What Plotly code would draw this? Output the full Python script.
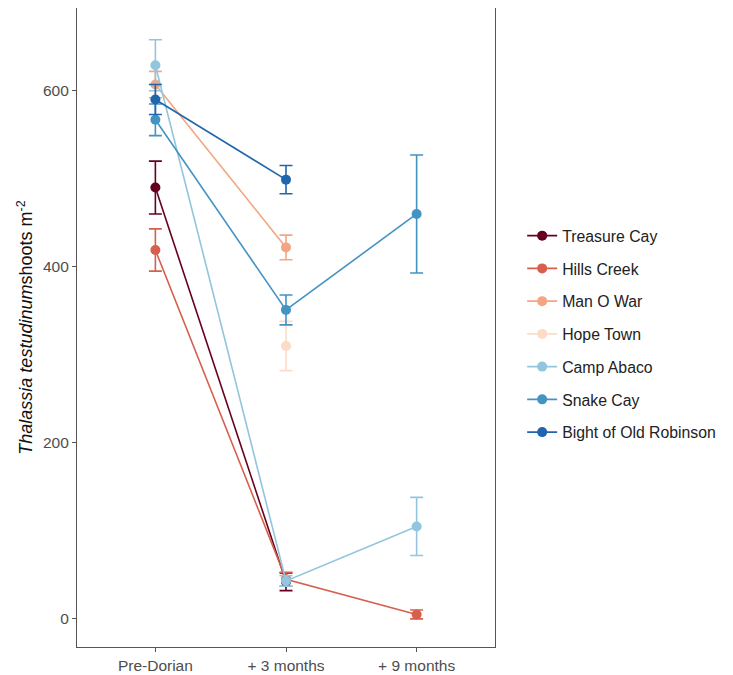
import plotly.graph_objects as go

timepoints = ["Pre-Dorian", "+ 3 months", "+ 9 months"]
sites = ["Treasure Cay", "Hills Creek", "Man O War", "Hope Town",
         "Camp Abaco", "Snake Cay", "Bight of Old Robinson"]
colors = ["#67001F", "#D6604D", "#F4A582", "#FDDBC7",
          "#92C5DE", "#4393C3", "#2166AC"]

treasure_cay = [490, 42, None]
treasure_cay_se = [30, 10, None]
hills_creek = [419, 45, 5]
hills_creek_se = [24, 8, 5]
man_o_war = [607, 422, None]
man_o_war_se = [15, 14, None]
hope_town = [None, 310, None]
hope_town_se = [None, 28, None]
camp_abaco = [629, 43, 105]
camp_abaco_se = [29, 6, 33]
snake_cay = [567, 351, 460]
snake_cay_se = [18, 17, 67]
bight = [590, 499, None]
bight_se = [17, 16, None]

means = [treasure_cay, hills_creek, man_o_war, hope_town, camp_abaco, snake_cay, bight]
ses = [treasure_cay_se, hills_creek_se, man_o_war_se, hope_town_se, camp_abaco_se, snake_cay_se, bight_se]

xpos = list(range(len(timepoints)))

fig = go.Figure()
for i, (name, col, m, s) in enumerate(zip(sites, colors, means, ses)):
    fig.add_trace(go.Scatter(
        x=xpos, y=m, name=name, mode="lines+markers",
        legendgroup=f"g{i}",
        line=dict(color=col, width=1.6),
        marker=dict(color=col, size=10),
        error_y=dict(type="data", array=[v if v is not None else 0 for v in s],
                     color=col, thickness=1.6, width=6.5, visible=True),
    ))

axis_col = "#555555"
# page body has an 8px margin, so the figure is sized to fit inside the window
fig.update_layout(
    width=725, height=667,
    margin=dict(l=69, r=238, t=0, b=28),
    plot_bgcolor="white", paper_bgcolor="white",
    font=dict(family="Liberation Sans, Arial, sans-serif", color="#222222"),
    showlegend=True,
    legend=dict(x=1.065, y=0.49, xanchor="left", yanchor="middle",
                font=dict(size=15.8, color="#222222"),
                tracegroupgap=9.2, itemwidth=30, bgcolor="rgba(0,0,0,0)"),
    xaxis=dict(range=[-0.6, 2.6], tickvals=xpos, ticktext=timepoints,
               showline=True, mirror=True, linecolor=axis_col, linewidth=1.2,
               ticks="outside", ticklen=4, tickcolor=axis_col,
               showgrid=False, zeroline=False, automargin=False,
               tickfont=dict(size=15.5, color="#4D4D4D")),
    yaxis=dict(range=[-32, 694], tickvals=[0, 200, 400, 600],
               showline=True, mirror=True, linecolor=axis_col, linewidth=1.2,
               ticks="outside", ticklen=4, tickcolor=axis_col,
               showgrid=False, zeroline=False, automargin=False,
               tickfont=dict(size=15.5, color="#4D4D4D")),
    annotations=[dict(
        text="<i>Thalassia testudinum</i>shoots m<sup>-2</sup>",
        xref="paper", yref="paper", x=-0.124, y=0.5,
        xanchor="center", yanchor="middle", textangle=-90, showarrow=False,
        font=dict(size=18, color="#111111"))],
)

fig.write_html("out.html")
